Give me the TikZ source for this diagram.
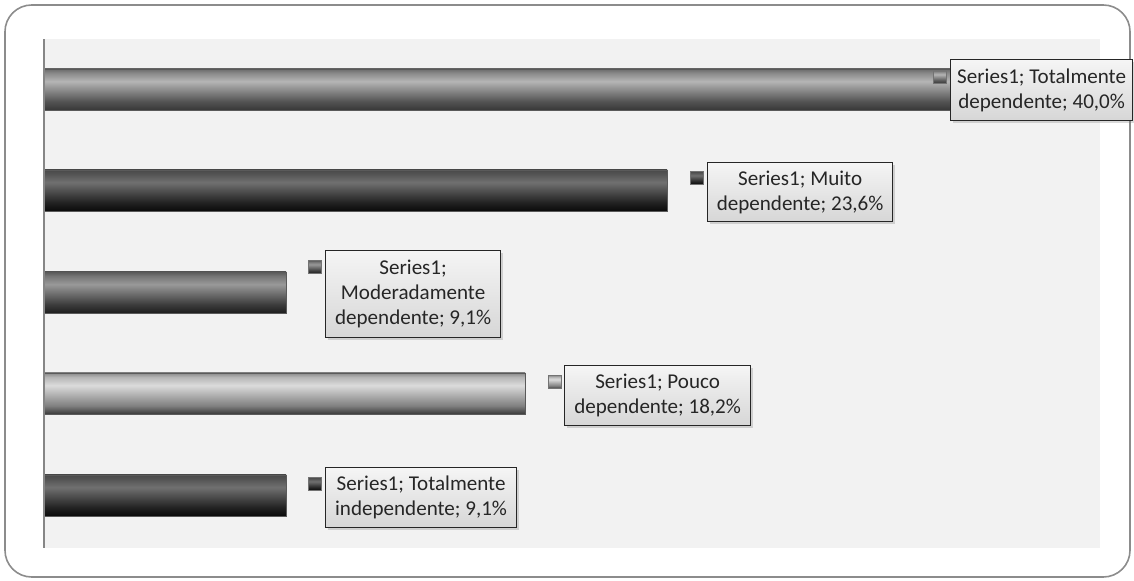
\documentclass[tikz,border=0pt]{standalone}
\usepackage{fontspec}
\setmainfont{Carlito}
\usetikzlibrary{shadows}

\definecolor{plotbg}{HTML}{F2F2F2}
\definecolor{framegray}{HTML}{8C8C8C}
\definecolor{axisgray}{HTML}{868686}
\definecolor{bargray}{HTML}{5A5A5A}
% bar gradients, bottom to top
\pgfdeclareverticalshading{barmid}{100bp}{color(0bp)=(black!78); color(25bp)=(black!78); color(35bp)=(black!68); color(60bp)=(black!29); color(70bp)=(black!46); color(75bp)=(black!58); color(100bp)=(black!58)}
\pgfdeclareverticalshading{bardark}{100bp}{color(0bp)=(black!96); color(25bp)=(black!96); color(35bp)=(black!87); color(60bp)=(black!56); color(70bp)=(black!67); color(75bp)=(black!71); color(100bp)=(black!71)}
\pgfdeclareverticalshading{barsoft}{100bp}{color(0bp)=(black!88); color(25bp)=(black!88); color(35bp)=(black!77); color(60bp)=(black!40); color(70bp)=(black!54); color(75bp)=(black!65); color(100bp)=(black!65)}
\pgfdeclareverticalshading{barlight}{100bp}{color(0bp)=(black!77); color(25bp)=(black!77); color(35bp)=(black!50); color(60bp)=(black!14); color(70bp)=(black!29); color(75bp)=(black!46); color(100bp)=(black!46)}

\begin{document}
\begin{tikzpicture}[
        x=0.75pt, y=0.75pt,
        bar/.style={draw=bargray, line width=0.6pt},
        datalabel/.style={draw=black!85, line width=0.9pt, top color=black!4, bottom color=black!16,
            drop shadow={opacity=0.3, shadow xshift=2pt, shadow yshift=-2pt},
            align=center, anchor=north west, inner sep=0pt, text=black!85,
            font=\fontsize{15.8}{18.8}\selectfont},
        keybox/.style={draw=black!55, line width=0.6pt, minimum size=9.75pt, inner sep=0pt},
    ]
    \useasboundingbox (0, 0) rectangle (1134, 581);
    \draw[framegray, line width=1.2pt, rounded corners=20pt] (5, 4) rectangle (1130, 576);
    \fill[plotbg] (44, 33) rectangle (1100, 542);
    % bars
    \shade[bar, shading=barmid] (44, 471) rectangle (1100, 512);
    \shade[bar, shading=bardark] (44, 370) rectangle (667, 411);
    \shade[bar, shading=barsoft] (44, 268) rectangle (286, 309);
    \shade[bar, shading=barlight] (44, 167) rectangle (525, 208);
    \shade[bar, shading=bardark] (44, 65) rectangle (286, 106);
    \draw[axisgray, line width=1.5pt] (44, 33) -- (44, 542);
    % legend keys
    \node[keybox, shading=barmid] (key1) at (940, 504) {};
    \node[keybox, shading=bardark] (key2) at (697, 403) {};
    \node[keybox, shading=barsoft] (key3) at (315, 314) {};
    \node[keybox, shading=barlight] (key4) at (555, 199) {};
    \node[keybox, shading=bardark] (key5) at (315, 97) {};
    % data labels
    \node[datalabel, minimum width=136.5pt, minimum height=45.75pt] (lbl1) at (950, 522) {Series1; Totalmente\\dependente; 40,0\%};
    \node[datalabel, minimum width=138.75pt, minimum height=44.25pt] (lbl2) at (707, 419) {Series1; Muito\\dependente; 23,6\%};
    \node[datalabel, minimum width=131.25pt, minimum height=65.25pt] (lbl3) at (325, 331) {Series1;\\Moderadamente\\dependente; 9,1\%};
    \node[datalabel, minimum width=139.5pt, minimum height=45pt] (lbl4) at (564, 216) {Series1; Pouco\\dependente; 18,2\%};
    \node[datalabel, minimum width=143.25pt, minimum height=45pt] (lbl5) at (325, 114) {Series1; Totalmente\\independente; 9,1\%};
\end{tikzpicture}
\end{document}
